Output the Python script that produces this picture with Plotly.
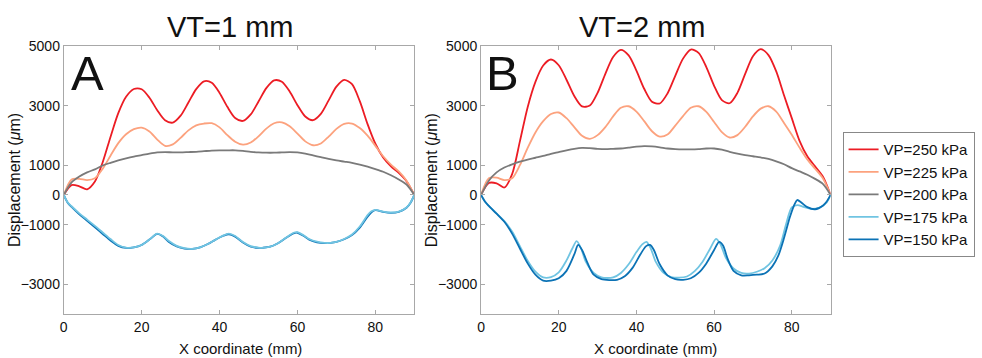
import plotly.graph_objects as go

W, H = 982, 358

# ---------------- data ----------------
x_grid = [0, 2, 4, 6, 8, 10, 12, 14, 16, 18, 20, 22, 24, 26, 28, 30, 32, 34, 36, 38, 40, 42, 44,
          46, 48, 50, 52, 54, 56, 58, 60, 62, 64, 66, 68, 70, 72, 74, 76, 78, 80, 82, 84, 86, 88, 90]

# VT = 1 mm
vt1_250 = [0, 330, 290, 190, 450, 1100, 1950, 2750, 3300, 3560, 3550, 3266, 2845, 2509, 2430, 2663,
           3105, 3557, 3819, 3769, 3429, 2961, 2586, 2487, 2705, 3139, 3589, 3850, 3803, 3474, 3016,
           2637, 2511, 2723, 3177, 3639, 3866, 3720, 3150, 2380, 1720, 1260, 960, 740, 460, 0]
vt1_225 = [0, 520, 540, 500, 560, 880, 1320, 1740, 2040, 2210, 2260, 2130, 1860, 1650, 1700, 1920,
           2170, 2340, 2400, 2410, 2270, 2010, 1790, 1690, 1760, 1970, 2230, 2410, 2440, 2310, 2060,
           1800, 1670, 1730, 1960, 2220, 2390, 2400, 2250, 1990, 1650, 1300, 1020, 790, 480, 0]
vt1_200 = [0, 420, 620, 760, 860, 990, 1080, 1160, 1230, 1290, 1340, 1390, 1430, 1440, 1430, 1430,
           1440, 1450, 1470, 1490, 1500, 1500, 1500, 1480, 1450, 1430, 1420, 1420, 1430, 1440, 1430,
           1390, 1330, 1270, 1210, 1160, 1120, 1080, 1020, 950, 870, 780, 660, 520, 350, 0]
vt1_x_blue = [0, 1, 2, 4, 6, 8, 10, 12, 14, 16, 18, 20, 22, 24, 25.5, 27, 29, 31, 33, 35, 37, 39, 41,
              42.4, 44, 46, 48, 50, 51, 53, 55, 57, 59, 60, 61.5, 63, 65, 67, 68.5, 70, 72, 74, 76,
              78, 79, 80, 82, 84, 86, 88, 89, 90]
vt1_175 = [0, -250, -380, -620, -830, -1040, -1260, -1480, -1680, -1770, -1760, -1680, -1500, -1300,
           -1380, -1550, -1710, -1790, -1810, -1760, -1650, -1500, -1360, -1300, -1380, -1580, -1720,
           -1770, -1775, -1740, -1620, -1440, -1270, -1250, -1350, -1480, -1570, -1610, -1610, -1580,
           -1480, -1330, -1060, -680, -550, -500, -560, -590, -560, -420, -260, 0]
vt1_150 = [0, -260, -400, -650, -870, -1090, -1310, -1530, -1710, -1780, -1760, -1680, -1500, -1310,
           -1400, -1580, -1730, -1800, -1810, -1760, -1650, -1500, -1370, -1320, -1400, -1600, -1740,
           -1780, -1775, -1740, -1620, -1450, -1290, -1270, -1370, -1500, -1590, -1620, -1610, -1580,
           -1490, -1350, -1100, -730, -580, -510, -570, -600, -570, -430, -270, 0]

# VT = 2 mm
vt2_250 = [0, 400, 390, 250, 700, 1800, 2950, 3800, 4350, 4550, 4358, 3870, 3322, 2974, 3003, 3430,
           4070, 4636, 4875, 4689, 4177, 3567, 3134, 3073, 3411, 4004, 4580, 4885, 4776, 4296, 3668,
           3188, 3081, 3429, 4066, 4660, 4900, 4700, 4150, 3350, 2580, 1820, 1300, 960, 620, 0]
vt2_225 = [0, 560, 580, 500, 560, 1000, 1580, 2100, 2480, 2720, 2770, 2580, 2280, 1990, 1885, 2010,
           2280, 2640, 2930, 2980, 2800, 2480, 2140, 1960, 2030, 2330, 2650, 2930, 2980, 2790, 2450,
           2110, 1930, 2010, 2290, 2640, 2900, 2980, 2800, 2420, 2020, 1590, 1190, 880, 560, 0]
vt2_200 = [0, 480, 760, 920, 1030, 1120, 1190, 1250, 1310, 1380, 1440, 1500, 1550, 1580, 1570, 1550,
           1540, 1550, 1560, 1590, 1620, 1640, 1630, 1600, 1560, 1540, 1530, 1530, 1540, 1560, 1560,
           1520, 1450, 1390, 1340, 1300, 1260, 1210, 1130, 1030, 900, 790, 680, 540, 370, 0]
vt2_x_175 = [0, 1, 2, 4, 6, 8, 10, 12, 14, 16, 18, 20, 22, 23.5, 24.6, 25.7, 27, 29, 31, 32.5, 34, 36,
             38, 40, 41.5, 42.6, 43.7, 45, 47, 49, 51, 53, 55, 57, 59, 60.5, 61.6, 63, 65, 67, 69,
             71, 73, 75, 77, 78.5, 80, 81.5, 83, 85, 87, 89, 90]
vt2_175 = [0, -220, -370, -620, -880, -1230, -1720, -2210, -2580, -2770, -2760, -2600, -2200, -1800,
           -1550, -1780, -2250, -2620, -2770, -2790, -2770, -2620, -2330, -1920, -1660, -1575, -1800,
           -2250, -2620, -2760, -2780, -2740, -2560, -2250, -1800, -1475, -1650, -2100, -2470, -2620,
           -2640, -2580, -2460, -2200, -1700, -1000, -420, -340, -400, -470, -430, -250, 0]
vt2_x_150 = [0, 1, 2, 4, 6, 8, 10, 12, 14, 16, 18, 20, 22, 24, 25, 26, 27.5, 29, 31, 33, 35, 37, 39,
             41, 42.5, 43.5, 44.5, 46, 48, 50, 52, 54, 56, 58, 60, 61.3, 62.3, 63.5, 65, 67, 69, 71,
             73, 75, 76.5, 78, 79.5, 80.5, 81.4, 82.5, 84, 86, 88, 89, 90]
vt2_150 = [0, -220, -370, -630, -900, -1300, -1800, -2300, -2680, -2880, -2880, -2800, -2550, -2000,
           -1680, -1850, -2310, -2680, -2830, -2860, -2850, -2730, -2450, -2000, -1720, -1680, -1850,
           -2330, -2700, -2830, -2850, -2800, -2620, -2300, -1850, -1575, -1700, -2150, -2550, -2700,
           -2700, -2680, -2640, -2400, -2050, -1450, -750, -380, -170, -260, -410, -480, -360, -220, 0]

series_names = ["VP=250 kPa", "VP=225 kPa", "VP=200 kPa", "VP=175 kPa", "VP=150 kPa"]
colors = ["#ec1c24", "#fca27e", "#7a7a7a", "#70c4e2", "#0b72b5"]

x_ticks = [0, 20, 40, 60, 80]
y_ticks = [-3000, -1000, 0, 1000, 3000, 5000]

FONT = "Arial, Liberation Sans, sans-serif"

# ---------------- figure ----------------
fig = go.Figure()

panels = [
    # left panel: dark blue drawn beneath light blue (legend order kept by legendrank)
    ("x", "y", [(0, x_grid, vt1_250), (1, x_grid, vt1_225), (2, x_grid, vt1_200),
                (4, vt1_x_blue, vt1_150), (3, vt1_x_blue, vt1_175)], True),
    ("x2", "y2", [(0, x_grid, vt2_250), (1, x_grid, vt2_225), (2, x_grid, vt2_200),
                  (3, vt2_x_175, vt2_175), (4, vt2_x_150, vt2_150)], False),
]
for xa, ya, data, show in panels:
    for i, xs, ys in data:
        fig.add_trace(go.Scatter(
            x=xs, y=ys, mode="lines", name=series_names[i], showlegend=show,
            legendrank=100 + i,
            line=dict(color=colors[i], width=1.8, shape="spline", smoothing=0.8),
            xaxis=xa, yaxis=ya))


def px_x(p):
    return p / W


def px_y(p):
    return 1 - p / H


ax_common = dict(showline=True, linecolor="#a8a8a8", linewidth=1, mirror="ticks",
                 ticks="inside", ticklen=4, tickcolor="#a8a8a8", showgrid=False,
                 zeroline=False, tickfont=dict(size=14, color="#111", family=FONT))

fig.update_layout(
    width=W, height=H,
    margin=dict(l=0, r=0, t=0, b=0),
    paper_bgcolor="white", plot_bgcolor="white",
    font=dict(family=FONT, color="#111"),
    xaxis=dict(domain=[px_x(60), px_x(412)], range=[0, 90], tickvals=x_ticks, anchor="y", **ax_common),
    yaxis=dict(domain=[px_y(313), px_y(39)], range=[-4000, 5000], tickvals=y_ticks, anchor="x", **ax_common),
    xaxis2=dict(domain=[px_x(479), px_x(830)], range=[0, 90], tickvals=x_ticks, anchor="y2", **ax_common),
    yaxis2=dict(domain=[px_y(313), px_y(39)], range=[-4000, 5000], tickvals=y_ticks, anchor="x2", **ax_common),
    legend=dict(x=px_x(842), y=px_y(127), xanchor="left", yanchor="top",
                bordercolor="#888", borderwidth=1, bgcolor="white",
                font=dict(size=15, family=FONT, color="#111"), tracegroupgap=0,
                itemwidth=30),
)

annots = [
    dict(text="VT=1 mm", x=px_x(227), y=px_y(19), size=29),
    dict(text="VT=2 mm", x=px_x(641), y=px_y(19), size=29),
    dict(text="A", x=px_x(84), y=px_y(66), size=49),
    dict(text="B", x=px_x(501), y=px_y(66), size=49),
    dict(text="X coordinate (mm)", x=px_x(237), y=px_y(348), size=15),
    dict(text="X coordinate (mm)", x=px_x(654), y=px_y(348), size=15),
]
for a in annots:
    fig.add_annotation(text=a["text"], x=a["x"], y=a["y"], xref="paper", yref="paper",
                       xanchor="center", yanchor="middle", showarrow=False,
                       font=dict(size=a["size"], family=FONT, color="#111"))
for xc in (10, 429):
    fig.add_annotation(text="Displacement (<i>μ</i>m)", x=px_x(xc), y=px_y(176),
                       xref="paper", yref="paper", textangle=-90,
                       xanchor="center", yanchor="middle", showarrow=False,
                       font=dict(size=16, family=FONT, color="#111"))

fig.write_html(
    "out.html",
    config={"displayModeBar": False},
    post_script=(
        "document.documentElement.style.margin='0';"
        "document.body.style.margin='0';document.body.style.padding='0';"
        "document.body.style.overflow='hidden';"
        "var gd=document.getElementById('{plot_id}');"
        "gd.style.position='absolute';gd.style.left='0px';gd.style.top='0px';"
    ),
)
